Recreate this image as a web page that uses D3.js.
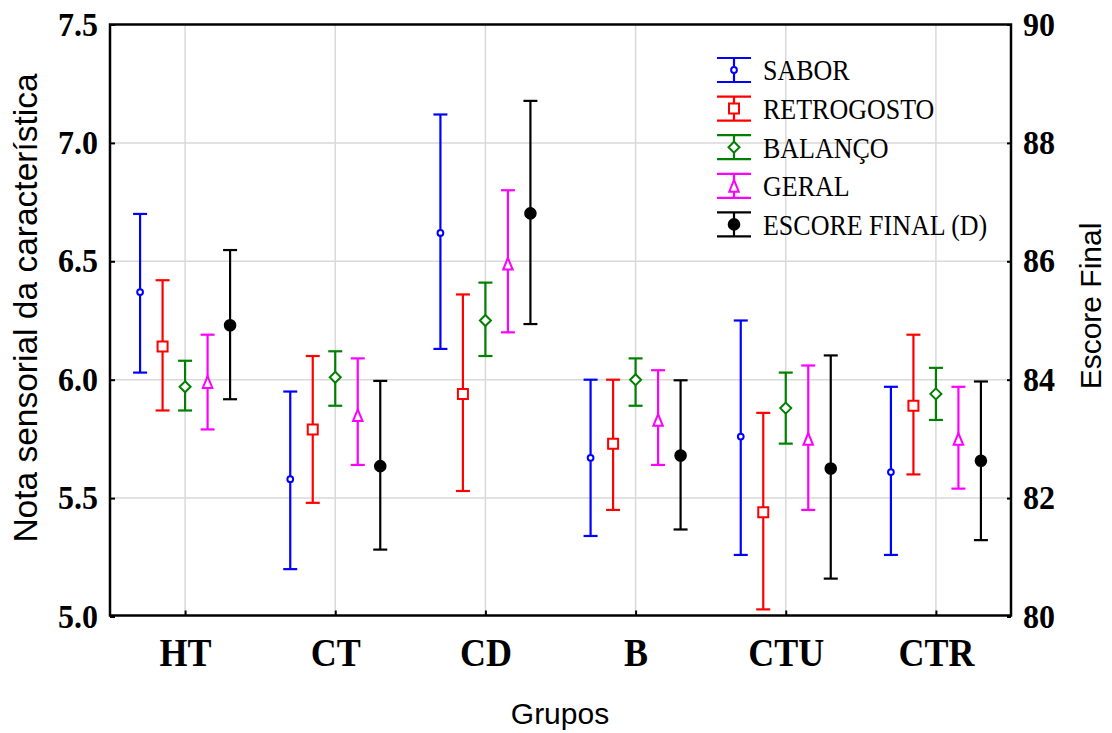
<!DOCTYPE html>
<html>
<head>
<meta charset="utf-8">
<script src="https://cdn.jsdelivr.net/npm/d3@7"></script>
<style>
  html, body { margin: 0; padding: 0; background: #fff; }
  svg { display: block; }
  .tall { transform-box: fill-box; transform-origin: center; }
</style>
</head>
<body>
<svg id="chart" width="1112" height="733"></svg>
<script>
// Groups on the x axis
const groups = ["HT", "CT", "CD", "B", "CTU", "CTR"];

// Left-axis attributes: mean and interval limits per group
const saborMean  = [6.37, 5.58, 6.62, 5.67, 5.76, 5.61];
const saborLow   = [6.03, 5.20, 6.13, 5.34, 5.26, 5.26];
const saborHigh  = [6.70, 5.95, 7.12, 6.00, 6.25, 5.97];

const retroMean  = [6.14, 5.79, 5.94, 5.73, 5.44, 5.89];
const retroLow   = [5.87, 5.48, 5.53, 5.45, 5.03, 5.60];
const retroHigh  = [6.42, 6.10, 6.36, 6.00, 5.86, 6.19];

const balMean    = [5.97, 6.01, 6.25, 6.00, 5.88, 5.94];
const balLow     = [5.87, 5.89, 6.10, 5.89, 5.73, 5.83];
const balHigh    = [6.08, 6.12, 6.41, 6.09, 6.03, 6.05];

const geralMean  = [5.99, 5.85, 6.49, 5.83, 5.75, 5.75];
const geralLow   = [5.79, 5.64, 6.20, 5.64, 5.45, 5.54];
const geralHigh  = [6.19, 6.09, 6.80, 6.04, 6.06, 5.97];

// Right-axis final score
const escoreMean = [84.92, 82.54, 86.81, 82.72, 82.50, 82.63];
const escoreLow  = [83.67, 81.13, 84.94, 81.47, 80.64, 81.29];
const escoreHigh = [86.19, 83.98, 88.71, 83.99, 84.41, 83.97];

// Tick values
const leftTicks  = [5.0, 5.5, 6.0, 6.5, 7.0, 7.5];
const rightTicks = [80, 82, 84, 86, 88, 90];

const svg = d3.select("#chart");
const plotLeft = 110, plotRight = 1011, plotTop = 24.5, plotBottom = 616.5;

const x0 = d3.scalePoint().domain(groups).range([plotLeft, plotRight]).padding(0.5);
const yL = d3.scaleLinear().domain([5.0, 7.5]).range([plotBottom, plotTop]);
const yR = d3.scaleLinear().domain([80, 90]).range([plotBottom, plotTop]);

// custom marker shapes
const triangle = {
  draw(ctx, size) {
    const w = Math.sqrt(size) / 2, h = Math.sqrt(size) * 0.62;
    ctx.moveTo(0, -h);
    ctx.lineTo(w, h);
    ctx.lineTo(-w, h);
    ctx.closePath();
  }
};
const diamond = {
  draw(ctx, size) {
    const r = Math.sqrt(size) / 2;
    ctx.moveTo(0, -r);
    ctx.lineTo(r, 0);
    ctx.lineTo(0, r);
    ctx.lineTo(-r, 0);
    ctx.closePath();
  }
};

const series = [
  { name: "SABOR", color: "#0000ff", mean: saborMean, low: saborLow, high: saborHigh, scale: yL,
    type: d3.symbolCircle, size: 26, fill: "#fff" },
  { name: "RETROGOSTO", color: "#ff0000", mean: retroMean, low: retroLow, high: retroHigh, scale: yL,
    type: d3.symbolSquare, size: 100, fill: "#fff" },
  { name: "BALANÇO", color: "#008000", mean: balMean, low: balLow, high: balHigh, scale: yL,
    type: diamond, size: 121, fill: "#fff" },
  { name: "GERAL", color: "#ff00ff", mean: geralMean, low: geralLow, high: geralHigh, scale: yL,
    type: triangle, size: 90, fill: "#fff" },
  { name: "ESCORE FINAL (D)", color: "#000000", mean: escoreMean, low: escoreLow, high: escoreHigh, scale: yR,
    type: d3.symbolCircle, size: 88, fill: "#000" }
];

const x1 = d3.scalePoint().domain(series.map(s => s.name)).range([-45, 45]);

// grid
const grid = svg.append("g").attr("stroke", "#d9d9d9").attr("stroke-width", 1.5);
grid.selectAll("line.h").data(leftTicks.slice(1, -1)).join("line")
  .attr("class", "h")
  .attr("x1", plotLeft).attr("x2", plotRight)
  .attr("y1", d => yL(d)).attr("y2", d => yL(d));
grid.selectAll("line.v").data(groups).join("line")
  .attr("class", "v")
  .attr("x1", d => x0(d)).attr("x2", d => x0(d))
  .attr("y1", plotTop).attr("y2", plotBottom);

// axes
const axisL = d3.axisLeft(yL).tickValues(leftTicks).tickSize(-5).tickPadding(12).tickFormat(d3.format(".1f"));
const axisR = d3.axisRight(yR).tickValues(rightTicks).tickSize(-4).tickPadding(12).tickFormat(d3.format("d"));
const axisB = d3.axisBottom(x0).tickSize(-5).tickPadding(23);

function styleAxis(g, size, stretch) {
  g.select(".domain").remove();
  g.selectAll(".tick line").attr("stroke", "#000").attr("stroke-width", 2);
  g.selectAll(".tick text")
    .attr("class", "tall")
    .style("transform", `scale(1, ${stretch})`)
    .attr("font-family", "'Liberation Serif', 'Times New Roman', serif")
    .attr("font-weight", "bold").attr("font-size", size).attr("fill", "#000");
}

svg.append("g").attr("transform", `translate(${plotLeft},0)`).call(axisL).call(g => styleAxis(g, 32, 1.04));
svg.append("g").attr("transform", `translate(${plotRight},0)`).call(axisR).call(g => styleAxis(g, 32, 1.04));
svg.append("g").attr("transform", `translate(0,${plotBottom - 1})`).call(axisB).call(g => styleAxis(g, 36, 1.12));

// frame
svg.append("rect").attr("x", plotLeft).attr("y", plotTop)
  .attr("width", plotRight - plotLeft).attr("height", plotBottom - 1 - plotTop)
  .attr("fill", "none").attr("stroke", "#000").attr("stroke-width", 2.5);

// error bars
const capHalf = 7;
series.forEach(s => {
  const g = svg.append("g").attr("stroke", s.color).attr("stroke-width", 2.2);
  groups.forEach((grp, i) => {
    const cx = x0(grp) + x1(s.name);
    g.append("line").attr("x1", cx).attr("x2", cx)
      .attr("y1", s.scale(s.low[i])).attr("y2", s.scale(s.high[i]));
    [s.low[i], s.high[i]].forEach(v => {
      g.append("line").attr("x1", cx - capHalf).attr("x2", cx + capHalf)
        .attr("y1", s.scale(v)).attr("y2", s.scale(v));
    });
    g.append("path")
      .attr("d", d3.symbol().type(s.type).size(s.size)())
      .attr("transform", `translate(${cx},${s.scale(s.mean[i])})`)
      .attr("fill", s.fill).attr("stroke-width", 2);
  });
});

// legend
const legend = svg.append("g");
series.forEach((s, i) => {
  const cy = 70 + i * 38.6;
  const cx = 734;
  const g = legend.append("g").attr("stroke", s.color).attr("stroke-width", 2.2);
  g.append("line").attr("x1", cx).attr("x2", cx).attr("y1", cy - 12).attr("y2", cy + 12);
  g.append("line").attr("x1", cx - 17).attr("x2", cx + 17).attr("y1", cy - 12).attr("y2", cy - 12);
  g.append("line").attr("x1", cx - 17).attr("x2", cx + 17).attr("y1", cy + 12).attr("y2", cy + 12);
  g.append("path")
    .attr("d", d3.symbol().type(s.type).size(s.size)())
    .attr("transform", `translate(${cx},${cy})`)
    .attr("fill", s.fill).attr("stroke-width", 2);
  legend.append("text")
    .attr("class", "tall")
    .style("transform", "scale(1, 1.15)")
    .attr("x", 763).attr("y", cy + 9)
    .attr("font-family", "'Liberation Serif', 'Times New Roman', serif")
    .attr("font-size", 26).attr("fill", "#000")
    .text(s.name);
});

// axis titles
const sans = "'Liberation Sans', Arial, sans-serif";
svg.append("text")
  .attr("transform", "translate(37,308) rotate(-90)")
  .attr("text-anchor", "middle").attr("font-family", sans).attr("font-size", 33.5)
  .text("Nota sensorial da característica");
svg.append("text")
  .attr("transform", "translate(1101,306) rotate(-90)")
  .attr("text-anchor", "middle").attr("font-family", sans).attr("font-size", 30)
  .text("Escore Final");
svg.append("text")
  .attr("x", 560).attr("y", 724)
  .attr("text-anchor", "middle").attr("font-family", sans).attr("font-size", 30)
  .text("Grupos");
</script>
</body>
</html>
